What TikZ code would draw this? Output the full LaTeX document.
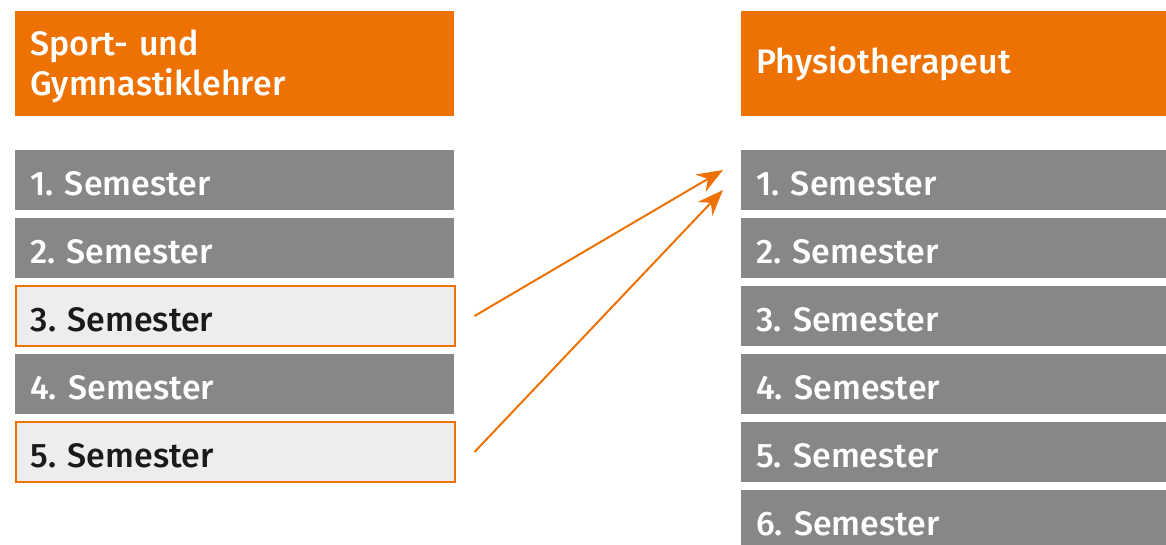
\documentclass[tikz,border=0pt]{standalone}
\usepackage{fontspec}
\setmainfont{Fira Sans}[BoldFont={Fira Sans Medium}]
\frenchspacing
\usetikzlibrary{arrows.meta}
\definecolor{hsorange}{HTML}{EE7203}
\definecolor{hsgray}{HTML}{878787}
\definecolor{hslight}{HTML}{EDEDED}
\definecolor{hsdark}{HTML}{1A1A1A}
\tikzset{
  semester/.style={anchor=west,fill=hsgray,text=white,minimum height=60pt,
    inner xsep=15pt,align=left,text height=31pt,text depth=1pt,
    font=\fontsize{34}{40}\selectfont\bfseries},
  leftcol/.style={minimum width=439pt,text width=409pt},
  rightcol/.style={minimum width=425pt,text width=395pt},
  chosen/.style={fill=hslight,text=hsdark,draw=hsorange,line width=1.5pt},
  headbox/.style={semester,fill=hsorange,minimum height=105pt},
  switch/.style={draw=hsorange,line width=2pt,-{Stealth[length=26pt,width=20pt]}}
}
\begin{document}
\begin{tikzpicture}[x=1pt,y=-1pt]
\useasboundingbox (0,0) rectangle (1166,544);
% headers
\node[headbox,leftcol,text height=30pt,text depth=47pt] (lhead) at (15,63.5) {Sport- und\\Gymnastiklehrer};
\node[headbox,rightcol,text height=28pt,text depth=9pt] (rhead) at (741,63.5) {Physiotherapeut};
% semesters
\foreach \i in {1,2,4}
  \node[semester,leftcol] (l\i) at (15,{180+68*(\i-1)}) {\i. Semester};
\foreach \i in {3,5}
  \node[semester,leftcol,chosen] (l\i) at (15,{180+68*(\i-1)}) {\i. Semester};
\foreach \i in {1,...,6}
  \node[semester,rightcol] (r\i) at (741,{180+68*(\i-1)}) {\i. Semester};
% recognition arrows
\coordinate (s3) at ([xshift=19pt]l3.east);
\coordinate (s5) at ([xshift=19pt]l5.east);
\coordinate (t1) at ([xshift=-18pt,yshift=10pt]r1.west);
\coordinate (t2) at ([xshift=-18pt,yshift=-10pt]r1.west);
\draw[switch] (s3) -- (t1);
\draw[switch] (s5) -- (t2);
\end{tikzpicture}
\end{document}
